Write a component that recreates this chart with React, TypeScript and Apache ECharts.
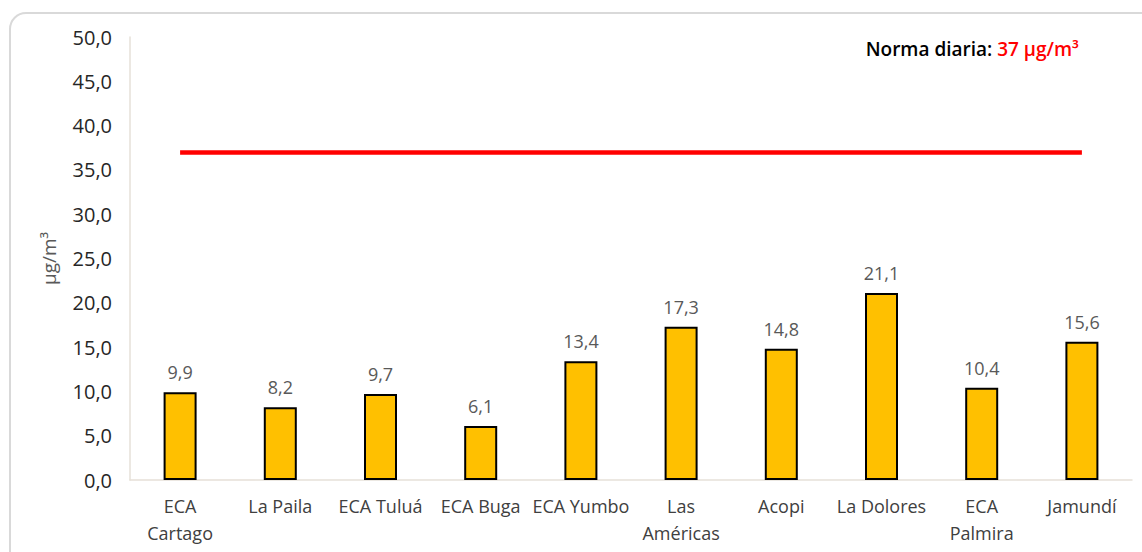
import React, { useEffect, useRef } from "react";
import * as echarts from "echarts";

const categories = [
  "ECA\nCartago",
  "La Paila",
  "ECA Tuluá",
  "ECA Buga",
  "ECA Yumbo",
  "Las\nAméricas",
  "Acopi",
  "La Dolores",
  "ECA\nPalmira",
  "Jamundí",
];
const values = [9.9, 8.2, 9.7, 6.1, 13.4, 17.3, 14.8, 21.1, 10.4, 15.6];
const dailyNorm = 37;
const yTicks = { min: 0, max: 50, interval: 5 };

const FONT = "'Open Sans', 'Noto Sans', sans-serif";
const fmt = (v: number) => v.toFixed(1).replace(".", ",");

export default function App() {
  const ref = useRef<HTMLDivElement>(null);
  useEffect(() => {
    if (!ref.current) return;
    const chart = echarts.init(ref.current, null, { renderer: "svg" });
    chart.setOption({
      animation: false,
      backgroundColor: "#ffffff",
      grid: { left: 130, right: 10, top: 37, bottom: 72, containLabel: false },
      graphic: [
        {
          type: "rect",
          shape: { x: 10, y: 13, width: 1160, height: 560, r: 16 },
          style: { fill: "none", stroke: "#d9d9d9", lineWidth: 2 },
          silent: true,
          z: -10,
        },
        {
          type: "text",
          right: 63,
          top: 39,
          style: {
            text: "{a|Norma diaria: }{b|" + dailyNorm + " µg/m³}",
            rich: {
              a: { fontFamily: FONT, fontSize: 19, fontWeight: 600, fill: "#000000" },
              b: { fontFamily: FONT, fontSize: 19, fontWeight: 600, fill: "#ff0000" },
            },
          },
        },
      ],
      xAxis: {
        type: "category",
        data: categories,
        axisLine: { show: true, lineStyle: { color: "#e6e0d8", width: 1.5 } },
        axisTick: { show: false },
        axisLabel: {
          interval: 0,
          color: "#404040",
          fontFamily: FONT,
          fontSize: 18,
          lineHeight: 27,
          margin: 12,
        },
      },
      yAxis: {
        type: "value",
        min: yTicks.min,
        max: yTicks.max,
        interval: yTicks.interval,
        name: "µg/m³",
        nameLocation: "middle",
        nameGap: 72,
        nameTextStyle: { color: "#595959", fontFamily: FONT, fontSize: 19 },
        axisLine: { show: true, lineStyle: { color: "#e6e0d8", width: 1.5 } },
        axisTick: { show: false },
        splitLine: { show: false },
        axisLabel: {
          color: "#262626",
          fontFamily: FONT,
          fontSize: 20,
          margin: 18,
          formatter: (v: number) => fmt(v),
        },
      },
      series: [
        {
          type: "bar",
          data: values,
          barWidth: 33,
          itemStyle: { color: "#ffc000", borderColor: "#000000", borderWidth: 2 },
          label: {
            show: true,
            position: "top",
            distance: 11,
            color: "#595959",
            fontFamily: FONT,
            fontSize: 18,
            formatter: (p: any) => fmt(p.value),
          },
          markLine: {
            symbol: "none",
            silent: true,
            label: { show: false },
            lineStyle: { color: "#ff0000", width: 4.5, type: "solid" },
            data: [[{ coord: [0, dailyNorm] }, { coord: [categories.length - 1, dailyNorm] }]],
          },
        },
      ],
    });
    return () => chart.dispose();
  }, []);
  return (
    <div
      ref={ref}
      style={{ position: "fixed", left: 0, top: 0, width: 1142, height: 552, background: "#fff" }}
    />
  );
}
